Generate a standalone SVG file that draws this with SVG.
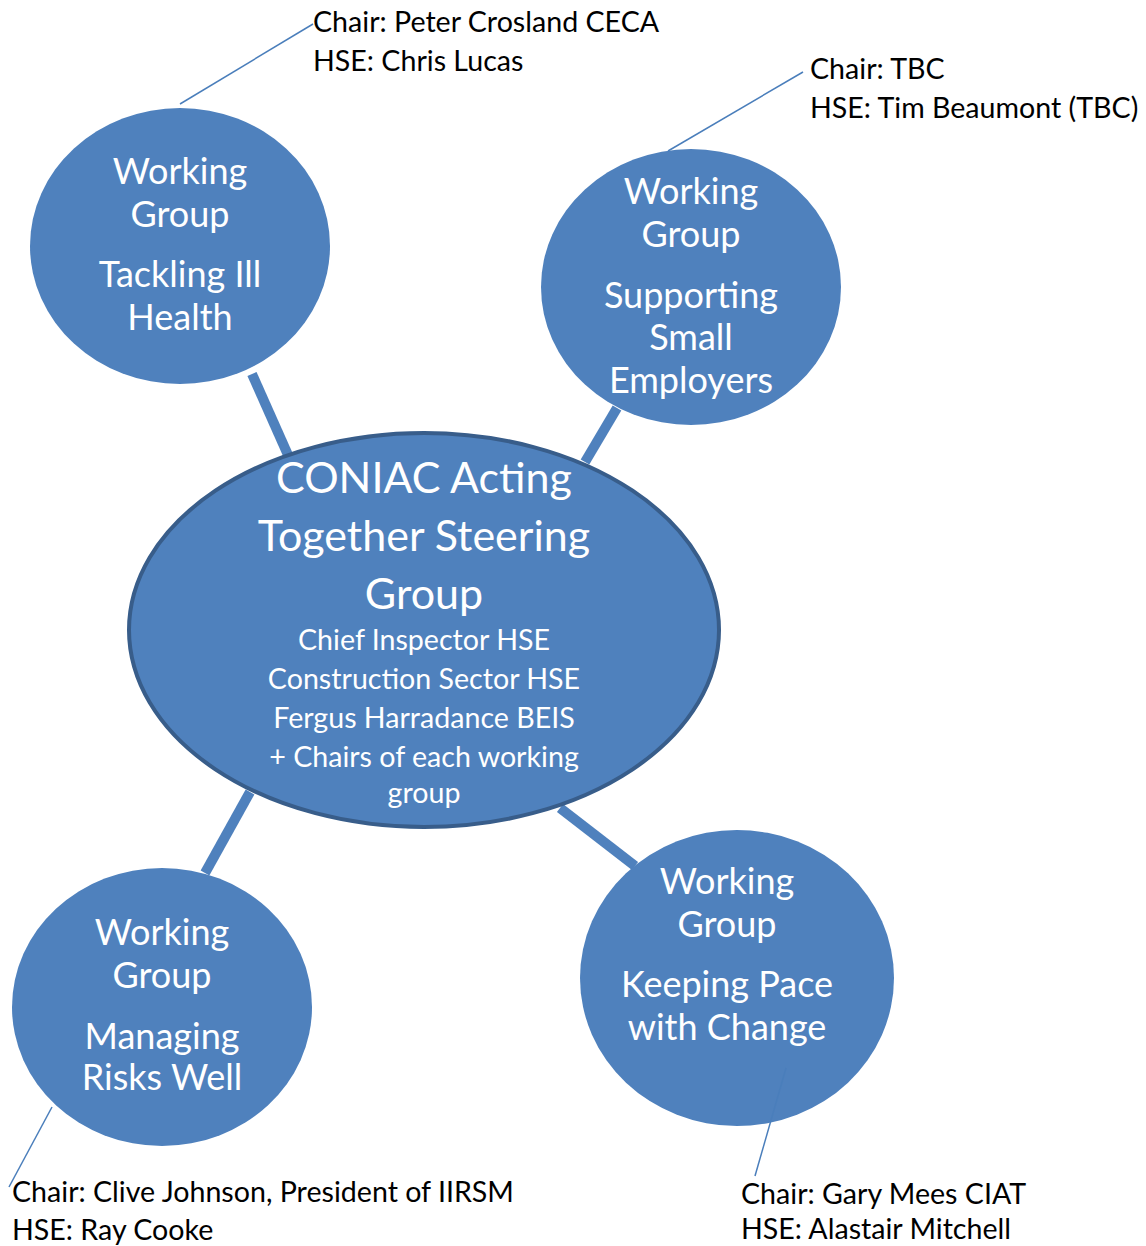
<svg xmlns="http://www.w3.org/2000/svg" width="1146" height="1246" viewBox="0 0 1146 1246">
<style>
.node{fill:#4F81BD;}
.main{fill:#4F81BD;stroke:#385D8A;stroke-width:4;}
.conn{stroke:#4F81BD;stroke-width:10;fill:none;}
.call{stroke:#4A7EBB;stroke-width:1.5;fill:none;}
.wt{font-family:Lato,"Liberation Sans",sans-serif;fill:#fff;text-anchor:middle;font-size:36px;}
.mt{font-family:Lato,"Liberation Sans",sans-serif;fill:#fff;text-anchor:middle;font-size:43px;}
.st{font-family:Lato,"Liberation Sans",sans-serif;fill:#fff;text-anchor:middle;font-size:28.6px;}
.ct{font-family:Lato,"Liberation Sans",sans-serif;fill:#000;font-size:28.6px;}
</style>
<rect width="1146" height="1246" fill="#fff"/>
<g id="connectors">
<line class="conn" x1="252" y1="374" x2="288" y2="455"/>
<line class="conn" x1="617" y1="408" x2="585" y2="462"/>
<line class="conn" x1="250" y1="792" x2="205" y2="873"/>
<line class="conn" x1="560" y1="808" x2="635" y2="866"/>
</g>
<g id="wg-ill-health">
<ellipse class="node" cx="180" cy="246" rx="150" ry="138"/>
<text class="wt"><tspan x="180" y="184">Working</tspan><tspan x="180" y="227">Group</tspan><tspan x="180" y="287">Tackling Ill</tspan><tspan x="180" y="330">Health</tspan></text>
</g>
<g id="wg-small-employers">
<ellipse class="node" cx="691" cy="287" rx="150" ry="138"/>
<text class="wt"><tspan x="691" y="204">Working</tspan><tspan x="691" y="247">Group</tspan><tspan x="691" y="308">Supporting</tspan><tspan x="691" y="350">Small</tspan><tspan x="691" y="393">Employers</tspan></text>
</g>
<g id="steering">
<ellipse class="main" cx="424" cy="630" rx="295" ry="197"/>
<text class="mt"><tspan x="424" y="493">CONIAC Acting</tspan><tspan x="424" y="551">Together Steering</tspan><tspan x="424" y="609">Group</tspan></text>
<text class="st"><tspan x="424" y="650">Chief Inspector HSE</tspan><tspan x="424" y="689">Construction Sector HSE</tspan><tspan x="424" y="728">Fergus Harradance BEIS</tspan><tspan x="424" y="767">+ Chairs of each working</tspan><tspan x="424" y="803">group</tspan></text>
</g>
<g id="wg-risks">
<ellipse class="node" cx="162" cy="1007" rx="150" ry="139"/>
<text class="wt"><tspan x="162" y="945">Working</tspan><tspan x="162" y="988">Group</tspan><tspan x="162" y="1049">Managing</tspan><tspan x="162" y="1090">Risks Well</tspan></text>
</g>
<g id="wg-change">
<ellipse class="node" cx="737" cy="978" rx="157" ry="148"/>
<text class="wt"><tspan x="727" y="894">Working</tspan><tspan x="727" y="937">Group</tspan><tspan x="727" y="997">Keeping Pace</tspan><tspan x="727" y="1040">with Change</tspan></text>
</g>
<g id="callouts">
<line class="call" x1="180" y1="104" x2="313" y2="24"/>
<line class="call" x1="668" y1="151" x2="803" y2="72"/>
<line class="call" x1="52" y1="1107" x2="9" y2="1187"/>
<line class="call" x1="786" y1="1068" x2="755" y2="1176"/>
<text class="ct"><tspan x="313" y="32">Chair: Peter Crosland CECA</tspan><tspan x="313" y="71">HSE: Chris Lucas</tspan></text>
<text class="ct"><tspan x="810" y="79">Chair: TBC</tspan><tspan x="810" y="118">HSE: Tim Beaumont (TBC)</tspan></text>
<text class="ct"><tspan x="12" y="1202">Chair: Clive Johnson, President of IIRSM</tspan><tspan x="12" y="1240">HSE: Ray Cooke</tspan></text>
<text class="ct"><tspan x="741" y="1204">Chair: Gary Mees CIAT</tspan><tspan x="741" y="1239">HSE: Alastair Mitchell</tspan></text>
</g>
</svg>
